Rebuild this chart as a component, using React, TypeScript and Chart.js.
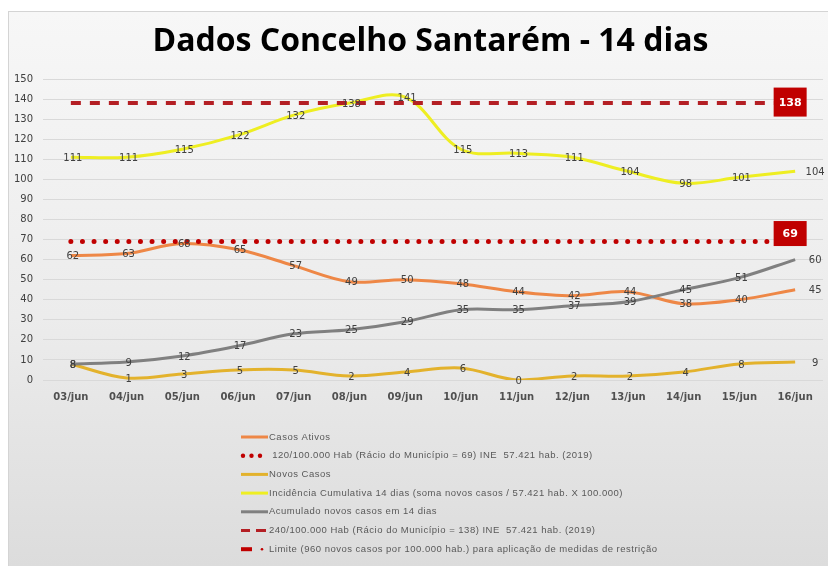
import React, { useEffect, useRef } from "react";
import { Chart, registerables } from "chart.js";

Chart.register(...registerables);

const dias = [
  "03/jun", "04/jun", "05/jun", "06/jun", "07/jun", "08/jun", "09/jun",
  "10/jun", "11/jun", "12/jun", "13/jun", "14/jun", "15/jun", "16/jun",
];
const casosAtivos = [62, 63, 68, 65, 57, 49, 50, 48, 44, 42, 44, 38, 40, 45];
const novosCasos = [8, 1, 3, 5, 5, 2, 4, 6, 0, 2, 2, 4, 8, 9];
const incidencia = [111, 111, 115, 122, 132, 138, 141, 115, 113, 111, 104, 98, 101, 104];
const acumulado = [8, 9, 12, 17, 23, 25, 29, 35, 35, 37, 39, 45, 51, 60];
const limite120 = 69;
const limite240 = 138;
const yMin = 0;
const yMax = 150;
const yStep = 10;

const titulo = "Dados Concelho Santarém - 14 dias";
const nomes = [
  "Casos Ativos",
  " 120/100.000 Hab (Rácio do Município = 69) INE  57.421 hab. (2019)",
  "Novos Casos",
  "Incidência Cumulativa 14 dias (soma novos casos / 57.421 hab. X 100.000)",
  "Acumulado novos casos em 14 dias",
  "240/100.000 Hab (Rácio do Município = 138) INE  57.421 hab. (2019)",
  "Limite (960 novos casos por 100.000 hab.) para aplicação de medidas de restrição",
];

const valueLabels = {
  id: "valueLabels",
  afterDatasetsDraw(chart: any) {
    const ctx = chart.ctx;
    ctx.save();
    ctx.font = "10px 'DejaVu Sans'";
    ctx.fillStyle = "#404040";
    ctx.textAlign = "center";
    ctx.textBaseline = "middle";
    chart.data.datasets.forEach((ds: any, di: number) => {
      if (!ds.showValues) return;
      const meta = chart.getDatasetMeta(di);
      meta.data.forEach((pt: any, i: number) => {
        const v = ds.data[i];
        if (v == null) return;
        const last = i === meta.data.length - 1;
        ctx.fillText(String(v), pt.x + (last ? 20 : 2), pt.y + 1);
      });
    });
    ctx.restore();
  },
};

const boxLabels = {
  id: "boxLabels",
  afterDatasetsDraw(chart: any) {
    const ctx = chart.ctx;
    ctx.save();
    chart.data.datasets.forEach((ds: any, di: number) => {
      if (!ds.boxLabel) return;
      const meta = chart.getDatasetMeta(di);
      const pt = meta.data[meta.data.length - 1];
      if (!pt) return;
      const w = 33;
      const h = ds.boxHeight;
      const cx = pt.x - 5;
      const cy = pt.y + ds.boxShift;
      ctx.fillStyle = "#c00000";
      ctx.fillRect(cx - w / 2, cy - h / 2, w, h);
      ctx.fillStyle = "#ffffff";
      ctx.font = "bold 11px 'DejaVu Sans'";
      ctx.textAlign = "center";
      ctx.textBaseline = "middle";
      ctx.fillText(String(ds.data[ds.data.length - 1]), cx, cy + 1);
    });
    ctx.restore();
  },
};

const customTitle = {
  id: "customTitle",
  afterDraw(chart: any) {
    const ctx = chart.ctx;
    ctx.save();
    ctx.fillStyle = "#000000";
    ctx.font = "bold 32px 'Open Sans'";
    ctx.textAlign = "center";
    ctx.textBaseline = "middle";
    ctx.fillText(titulo, chart.width / 2 + 12, 30);
    ctx.restore();
  },
};

const customLegend = {
  id: "customLegend",
  afterDraw(chart: any) {
    const ctx = chart.ctx;
    const order = chart.data.datasets
      .map((ds: any, i: number) => ({ ds, i }))
      .sort((a: any, b: any) => a.ds.legendOrder - b.ds.legendOrder);
    const x0 = 232;
    const y0 = chart.chartArea.bottom + 57;
    const step = 18.7;
    ctx.save();
    order.forEach(({ ds }: any, k: number) => {
      const y = y0 + k * step;
      const kind = ds.legendKind;
      ctx.strokeStyle = ds.borderColor;
      ctx.fillStyle = ds.borderColor;
      if (kind === "line") {
        ctx.lineWidth = 3;
        ctx.setLineDash([]);
        ctx.beginPath();
        ctx.moveTo(x0, y);
        ctx.lineTo(x0 + 27, y);
        ctx.stroke();
      } else if (kind === "dots") {
        [2, 10.5, 19].forEach((dx) => {
          ctx.beginPath();
          ctx.arc(x0 + dx, y, 2.2, 0, Math.PI * 2);
          ctx.fill();
        });
      } else if (kind === "dash") {
        ctx.lineWidth = 3;
        ctx.setLineDash([]);
        ctx.beginPath();
        ctx.moveTo(x0, y);
        ctx.lineTo(x0 + 9, y);
        ctx.moveTo(x0 + 15, y);
        ctx.lineTo(x0 + 25, y);
        ctx.stroke();
      } else if (kind === "thick") {
        ctx.lineWidth = 4;
        ctx.setLineDash([]);
        ctx.beginPath();
        ctx.moveTo(x0, y);
        ctx.lineTo(x0 + 11, y);
        ctx.stroke();
        ctx.beginPath();
        ctx.arc(x0 + 21, y, 1.3, 0, Math.PI * 2);
        ctx.fill();
      }
      ctx.fillStyle = "#595959";
      ctx.font = "9.5px 'Liberation Sans'";
      (ctx as any).letterSpacing = "0.5px";
      ctx.textAlign = "left";
      ctx.textBaseline = "middle";
      ctx.fillText(ds.label, x0 + 28, y);
      (ctx as any).letterSpacing = "0px";
    });
    ctx.restore();
  },
};

export default function App() {
  const ref = useRef<HTMLCanvasElement | null>(null);

  useEffect(() => {
    if (!ref.current) return;
    const flat = (v: number) => dias.map(() => v);
    const chart = new Chart(ref.current, {
      type: "line",
      data: {
        labels: dias,
        datasets: [
          {
            label: nomes[5],
            data: flat(limite240),
            borderColor: "#b41f24",
            borderWidth: 4,
            borderDash: [10, 9],
            pointRadius: 0,
            tension: 0,
            boxLabel: true,
            boxHeight: 29,
            boxShift: -1,
            legendKind: "dash",
            legendOrder: 5,
          } as any,
          {
            label: nomes[1],
            data: flat(limite120),
            borderColor: "#c00000",
            borderWidth: 5,
            borderDash: [0, 11.6],
            borderCapStyle: "round",
            pointRadius: 0,
            tension: 0,
            boxLabel: true,
            boxHeight: 25,
            boxShift: -8,
            legendKind: "dots",
            legendOrder: 1,
          } as any,
          {
            label: nomes[6],
            data: dias.map(() => null),
            borderColor: "#c00000",
            pointRadius: 0,
            legendKind: "thick",
            legendOrder: 6,
          } as any,
          {
            label: nomes[4],
            data: acumulado,
            borderColor: "#808080",
            borderWidth: 3,
            pointRadius: 0,
            tension: 0.35,
            showValues: true,
            legendKind: "line",
            legendOrder: 4,
          } as any,
          {
            label: nomes[0],
            data: casosAtivos,
            borderColor: "#ee8746",
            borderWidth: 3,
            pointRadius: 0,
            tension: 0.35,
            showValues: true,
            legendKind: "line",
            legendOrder: 0,
          } as any,
          {
            label: nomes[2],
            data: novosCasos,
            borderColor: "#e3b22c",
            borderWidth: 3,
            pointRadius: 0,
            tension: 0.35,
            showValues: true,
            legendKind: "line",
            legendOrder: 2,
          } as any,
          {
            label: nomes[3],
            data: incidencia,
            borderColor: "#eeee22",
            borderWidth: 3,
            pointRadius: 0,
            tension: 0.35,
            showValues: true,
            legendKind: "line",
            legendOrder: 3,
          } as any,
        ],
      },
      options: {
        animation: false,
        responsive: true,
        maintainAspectRatio: false,
        layout: { padding: { left: 4, right: 5, top: 67, bottom: 160 } },
        plugins: {
          legend: { display: false },
          tooltip: { enabled: false },
          title: { display: false },
        },
        scales: {
          x: {
            offset: true,
            grid: { display: false, offset: true },
            border: { display: false },
            ticks: {
              color: "#505050",
              font: { family: "'DejaVu Sans'", size: 10, weight: "bold" },
              padding: 3,
              maxRotation: 0,
              autoSkip: false,
            },
          },
          y: {
            min: yMin,
            max: yMax,
            afterFit: (s: any) => {
              s.width = 30;
            },
            grid: { color: "#d9d9d9", drawTicks: false },
            border: { display: false },
            ticks: {
              stepSize: yStep,
              color: "#404040",
              font: { family: "'DejaVu Sans'", size: 10 },
              padding: 10,
            },
          },
        },
      } as any,
      plugins: [valueLabels, boxLabels, customTitle, customLegend],
    });
    return () => chart.destroy();
  }, []);

  return (
    <div
      style={{
        position: "absolute",
        left: 0,
        top: 0,
        width: 828,
        height: 566,
        background: "#ffffff",
        overflow: "hidden",
      }}
    >
      <div
        style={{
          position: "absolute",
          left: 8,
          top: 11,
          width: 820,
          height: 555,
          borderTop: "1px solid #d4d4d4",
          borderLeft: "1px solid #d4d4d4",
          boxSizing: "border-box",
          background: "linear-gradient(to bottom, #f7f7f7 0%, #ececec 55%, #dcdcdc 100%)",
        }}
      >
        <canvas ref={ref} />
      </div>
    </div>
  );
}
